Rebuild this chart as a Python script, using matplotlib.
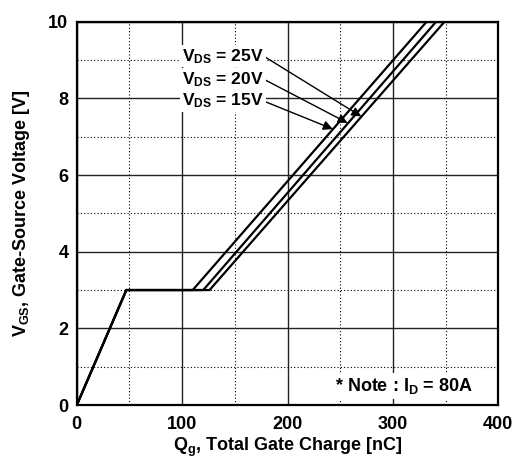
import matplotlib.pyplot as plt
import numpy as np

plt.rcParams['font.family'] = ['Liberation Sans', 'DejaVu Sans']
plt.rcParams['font.weight'] = 'bold'
plt.rcParams['mathtext.fontset'] = 'custom'
plt.rcParams['mathtext.rm'] = 'Liberation Sans:bold'
plt.rcParams['mathtext.it'] = 'Liberation Sans:bold'
plt.rcParams['mathtext.bf'] = 'Liberation Sans:bold'

# Datos
vds = ['15V', '20V', '25V']
qg_15 = [0, 47, 110, 332]
qg_20 = [0, 47, 120, 341]
qg_25 = [0, 47, 126, 349]
vgs = [0, 3, 3, 10]

# puntas de las flechas (sobre cada curva)
tip_q = [243, 257, 270]
tip_v = [7.2, 7.36, 7.53]
label_v = [7.93, 8.5, 9.1]

fig = plt.figure(figsize=(5.19, 4.59), dpi=100)
ax = fig.add_axes([0.148, 0.1176, 0.812, 0.835])

for q in [qg_15, qg_20, qg_25]:
    ax.plot(q, vgs, color='black', lw=1.6, zorder=3)

ax.set_xlim(0, 400)
ax.set_ylim(0, 10)
ax.set_xticks([0, 100, 200, 300, 400])
ax.set_yticks([0, 2, 4, 6, 8, 10])
ax.set_xticks([50, 150, 250, 350], minor=True)
ax.set_yticks([1, 3, 5, 7, 9], minor=True)
ax.grid(which='major', color='#222222', lw=1.0, ls='-')
ax.grid(which='minor', color='black', lw=0.8, ls=(0, (1, 2)))
ax.tick_params(which='both', length=0, labelsize=13)
ax.tick_params(axis='x', pad=8)
ax.tick_params(axis='y', pad=6)
for s in ax.spines.values():
    s.set_linewidth(1.6)

ax.set_xlabel(r'Q$_{\rm g}$, Total Gate Charge [nC]', fontsize=13, fontweight='bold', labelpad=2)
ax.set_ylabel(r'V$_{\rm GS}$, Gate-Source Voltage [V]', fontsize=13, fontweight='bold', labelpad=12)

for i in range(len(vds)):
    ax.annotate(r'V$_{\rm DS}$ = ' + vds[i], xy=(tip_q[i], tip_v[i]), xytext=(100, label_v[i]),
                fontsize=12.5, fontweight='bold', va='center', ha='left',
                bbox=dict(boxstyle='square,pad=0.1', fc='white', ec='none'),
                arrowprops=dict(arrowstyle='-|>', color='black', lw=1.0, mutation_scale=14,
                                shrinkA=0, shrinkB=0, relpos=(1.0, 0.5)),
                zorder=4)

ax.text(376, 0.5, r'* Note : I$_{\rm D}$ = 80A', fontsize=13, fontweight='bold', ha='right', va='center',
        bbox=dict(boxstyle='square,pad=0.15', fc='white', ec='none'), zorder=4)

fig.savefig('out.png', dpi=100)
